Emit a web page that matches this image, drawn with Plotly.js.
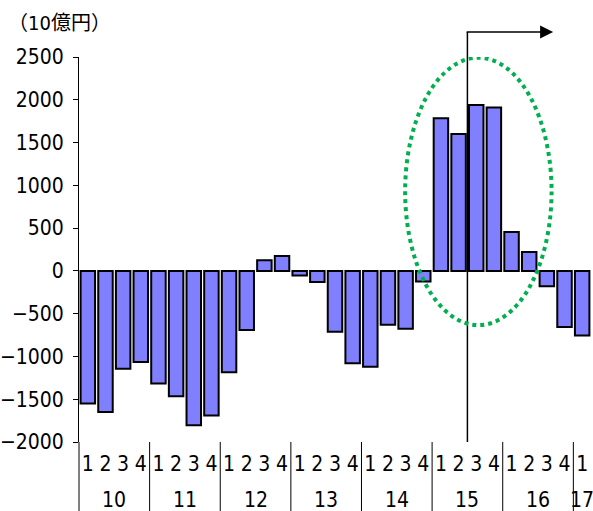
<!DOCTYPE html>
<html>
<head>
<meta charset="utf-8">
<script src="https://cdn.plot.ly/plotly-3.0.1.min.js"></script>
<style>html,body{margin:0;padding:0;background:#fff;}#chart{width:593px;height:511px;}</style>
</head>
<body>
<div id="chart"></div>
<script>
const years = ['10','10','10','10','11','11','11','11','12','12','12','12','13','13','13','13','14','14','14','14','15','15','15','15','16','16','16','16','17'];
const quarters = ['1','2','3','4','1','2','3','4','1','2','3','4','1','2','3','4','1','2','3','4','1','2','3','4','1','2','3','4','1'];
const values = [-1550,-1650,-1145,-1065,-1315,-1465,-1805,-1690,-1185,-690,125,175,-55,-130,-710,-1080,-1120,-630,-675,-125,1785,1600,1940,1910,455,220,-180,-655,-755];
const yTicks = [-2000,-1500,-1000,-500,0,500,1000,1500,2000,2500];
const unitLabel = '（10億円）';

const font = "'Liberation Sans Narrow', 'DejaVu Sans Condensed', 'Noto Sans CJK JP', sans-serif";
const fs = 21;
const N = values.length;
const cats = years.map((y, i) => y + '-' + quarters[i]);

const trace = {
  type: 'bar',
  x: cats,
  y: values,
  marker: {color: '#8080FF', line: {color: '#000000', width: 2}},
  hoverinfo: 'skip'
};

// year groups: label at centre, dividers at group edges
const groups = [];
years.forEach((y, i) => {
  if (!groups.length || groups[groups.length - 1].year !== y) groups.push({year: y, start: i, end: i});
  else groups[groups.length - 1].end = i;
});

const plotH = 511 - 57 - 69;
const shapes = [];
groups.forEach(g => {
  shapes.push({type: 'line', xref: 'paper', yref: 'paper', x0: g.start / N, x1: g.start / N,
    y0: -69 / plotH, y1: 0, line: {color: '#000', width: 1}});
});
// boundary 2015 Q3
const markIdx = cats.indexOf('15-3');
shapes.push({type: 'line', xref: 'paper', yref: 'paper', x0: markIdx / N, x1: markIdx / N, y0: 0, y1: 1 + 25 / plotH,
  line: {color: '#000', width: 1.5}, layer: 'above'});
shapes.push({type: 'circle', xref: 'paper', yref: 'y', x0: 0.637, x1: 0.923, y0: -634, y1: 2492,
  line: {color: '#00B050', width: 4, dash: 'dot'}, layer: 'above'});

const annotations = groups.map(g => ({
  text: g.year, xref: 'paper', yref: 'paper', x: (g.start + g.end + 1) / 2 / N, y: -(500 - 442) / plotH,
  xanchor: 'center', yanchor: 'middle', showarrow: false,
  font: {family: font, size: fs, color: '#000'}
}));
annotations.push({text: unitLabel, xref: 'paper', yref: 'paper', x: -73 / 512, y: 1 + 34 / plotH,
  xanchor: 'left', yanchor: 'middle', showarrow: false,
  font: {family: font, size: 20, color: '#000'}});
annotations.push({text: '', xref: 'paper', yref: 'paper', x: 0.926, y: 1 + 25 / plotH,
  showarrow: true, ax: -88, ay: 0, axref: 'pixel', ayref: 'pixel',
  arrowhead: 2, arrowsize: 2, arrowwidth: 1.3, arrowcolor: '#000'});

const layout = {
  width: 593, height: 511,
  margin: {l: 79, r: 2, t: 57, b: 69},
  paper_bgcolor: '#ffffff', plot_bgcolor: '#ffffff',
  showlegend: false,
  bargap: 0.18,
  font: {family: font, size: fs, color: '#000'},
  xaxis: {
    type: 'category',
    tickmode: 'array', tickvals: cats, ticktext: quarters,
    showgrid: false, zeroline: false, showline: false, ticks: '',
    ticklabelstandoff: 7,
    tickfont: {family: font, size: fs, color: '#000'}
  },
  yaxis: {
    range: [-2000, 2500],
    tickvals: yTicks,
    ticktext: yTicks.map(v => v < 0 ? '−' + Math.abs(v) : String(v)),
    showgrid: false, zeroline: false,
    showline: true, linecolor: '#000', linewidth: 1,
    ticks: 'outside', ticklen: 5, tickcolor: '#000', tickwidth: 1,
    ticklabelstandoff: 5,
    tickfont: {family: font, size: fs, color: '#000'}
  },
  shapes: shapes,
  annotations: annotations
};

Plotly.newPlot('chart', [trace], layout, {displayModeBar: false, staticPlot: true});
</script>
</body>
</html>
